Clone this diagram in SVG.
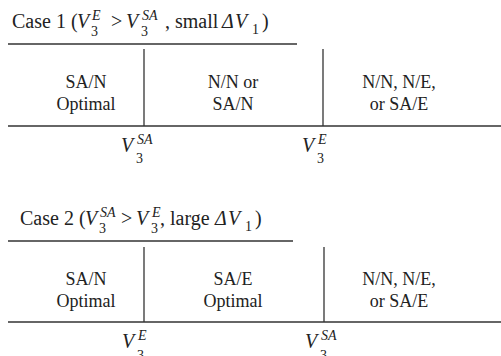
<svg xmlns="http://www.w3.org/2000/svg" width="501" height="356" viewBox="0 0 501 356">
<style>
text{font-family:"Liberation Serif","Times New Roman",serif;fill:#222;}
.t{font-size:20px;}
.b{font-size:18px;text-anchor:middle;}
.m{font-size:20px;font-style:italic;}
.s{font-size:14px;font-style:italic;}
.n{font-size:14px;}
.ln{stroke:#333;stroke-width:1.5;fill:none;}
.vl{stroke:#333;stroke-width:1.3;fill:none;}
</style>
<rect width="501" height="356" fill="#fff"/>
<g id="case1-title">
<text class="t" x="12" y="28">Case 1 (</text>
<text class="m" x="77" y="28">V</text>
<text class="s" x="92" y="20">E</text>
<text class="n" x="91" y="36">3</text>
<text class="t" x="111" y="28">&gt;</text>
<text class="m" x="126" y="28">V</text>
<text class="s" x="142" y="20">SA</text>
<text class="n" x="141" y="36">3</text>
<text class="t" x="165" y="28">, small</text>
<text class="m" x="222" y="28">Δ</text>
<text class="m" x="235" y="28">V</text>
<text class="n" x="252" y="34">1</text>
<text class="t" x="262" y="28">)</text>
</g>
<g id="case1-lines">
<line class="ln" x1="8" y1="44" x2="297" y2="44"/>
<line class="vl" x1="144" y1="49" x2="144" y2="126"/>
<line class="vl" x1="323" y1="49" x2="323" y2="126"/>
<line class="ln" x1="8" y1="126" x2="501" y2="126"/>
</g>
<g id="case1-r1"><text class="b" x="86" y="88">SA/N</text><text class="b" x="86" y="110">Optimal</text></g>
<g id="case1-r2"><text class="b" x="233" y="88">N/N or</text><text class="b" x="233" y="110">SA/N</text></g>
<g id="case1-r3"><text class="b" x="399" y="88">N/N, N/E,</text><text class="b" x="399" y="110">or SA/E</text></g>
<g id="case1-v3sa"><text class="m" x="121" y="152">V</text><text class="s" x="137" y="144">SA</text><text class="n" x="136" y="163">3</text></g>
<g id="case1-v3e"><text class="m" x="302" y="152">V</text><text class="s" x="318" y="144">E</text><text class="n" x="317" y="163">3</text></g>

<g id="case2-title">
<text class="t" x="20" y="225">Case 2 (</text>
<text class="m" x="85" y="225">V</text>
<text class="s" x="100" y="217">SA</text>
<text class="n" x="99" y="233">3</text>
<text class="t" x="121" y="225">&gt;</text>
<text class="m" x="136" y="225">V</text>
<text class="s" x="152" y="217">E</text>
<text class="n" x="151" y="233">3</text>
<text class="t" x="160" y="225">, large</text>
<text class="m" x="215" y="225">Δ</text>
<text class="m" x="228" y="225">V</text>
<text class="n" x="245" y="231">1</text>
<text class="t" x="255" y="225">)</text>
</g>
<g id="case2-lines">
<line class="ln" x1="8" y1="241" x2="293" y2="241"/>
<line class="vl" x1="144" y1="247" x2="144" y2="322"/>
<line class="vl" x1="324" y1="247" x2="324" y2="322"/>
<line class="ln" x1="8" y1="322" x2="501" y2="322"/>
</g>
<g id="case2-r1"><text class="b" x="86" y="285">SA/N</text><text class="b" x="86" y="307">Optimal</text></g>
<g id="case2-r2"><text class="b" x="233" y="285">SA/E</text><text class="b" x="233" y="307">Optimal</text></g>
<g id="case2-r3"><text class="b" x="399" y="285">N/N, N/E,</text><text class="b" x="399" y="307">or SA/E</text></g>
<g id="case2-v3e"><text class="m" x="122" y="348">V</text><text class="s" x="138" y="340">E</text><text class="n" x="137" y="360">3</text></g>
<g id="case2-v3sa"><text class="m" x="305" y="348">V</text><text class="s" x="321" y="340">SA</text><text class="n" x="320" y="360">3</text></g>
</svg>
